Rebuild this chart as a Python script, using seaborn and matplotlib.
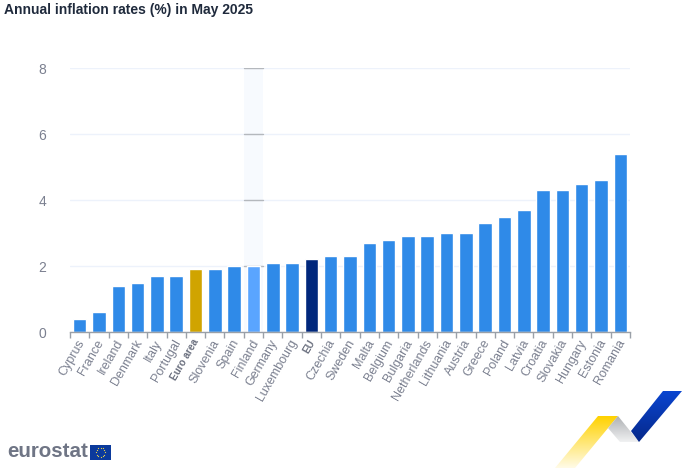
import numpy as np
import pandas as pd
import matplotlib
matplotlib.use("Agg")
import matplotlib.pyplot as plt
from matplotlib.patches import Polygon, Rectangle
from matplotlib.transforms import ScaledTranslation
import seaborn as sns

countries = ["Cyprus", "France", "Ireland", "Denmark", "Italy", "Portugal", "Euro area",
             "Slovenia", "Spain", "Finland", "Germany", "Luxembourg", "EU", "Czechia",
             "Sweden", "Malta", "Belgium", "Bulgaria", "Netherlands", "Lithuania", "Austria",
             "Greece", "Poland", "Latvia", "Croatia", "Slovakia", "Hungary", "Estonia", "Romania"]
rates = [0.4, 0.6, 1.4, 1.5, 1.7, 1.7, 1.9, 1.9, 2.0, 2.0, 2.1, 2.1, 2.2, 2.3, 2.3, 2.7, 2.8,
         2.9, 2.9, 3.0, 3.0, 3.3, 3.5, 3.7, 4.3, 4.3, 4.5, 4.6, 5.4]
y_ticks = [0, 2, 4, 6, 8]

BLUE = "#2f8ae8"
special = {"Euro area": "#d0a400", "EU": "#00277c", "Finland": "#5aa5ff"}
GREY = "#7b8090"

sns.set_theme(style="white")
plt.rcParams["font.family"] = ["Liberation Sans", "DejaVu Sans"]

W, H = 700, 468
fig = plt.figure(figsize=(W / 100, H / 100), dpi=100)
ax = fig.add_axes([70 / W, 1 - 332 / H, 560 / W, 264 / H])

df = pd.DataFrame({"country": countries, "rate": rates})
palette = {c: special.get(c, BLUE) for c in countries}

# hover band behind Finland
fin = countries.index("Finland")
ax.axvspan(fin - 0.5, fin + 0.5, color="#f7fafe", lw=0, zorder=0)
ax.set_axisbelow(True)
ax.yaxis.grid(True, color="#edf2fb", lw=1)
for t in y_ticks[1:]:
    ax.plot([fin - 0.5, fin + 0.5], [t, t], color="#b4b8bd", lw=1, zorder=1)

sns.barplot(data=df, x="country", y="rate", hue="country", palette=palette, legend=False,
            width=0.7, saturation=1, ax=ax, zorder=2)

ax.set_xlim(-0.5, len(countries) - 0.5)
ax.set_ylim(0, 8)
ax.set_xlabel("")
ax.set_ylabel("")
ax.set_yticks(y_ticks)
ax.tick_params(axis="y", length=0, labelsize=10, labelcolor=GREY, pad=17)
for s in ["top", "left", "right"]:
    ax.spines[s].set_visible(False)
ax.spines["bottom"].set_color("#9aa0a8")
ax.spines["bottom"].set_linewidth(1)

# category ticks sit between the bars, labels under the bar centres
ax.set_xticks(np.arange(len(countries) + 1) - 0.5, minor=True)
ax.tick_params(axis="x", which="minor", bottom=True, length=4, width=1, color="#9aa0a8")
ax.set_xticks(range(len(countries)))
ax.set_xticklabels(countries, rotation=60, ha="right", rotation_mode="anchor")
ax.tick_params(axis="x", which="major", length=0, labelsize=9, labelcolor=GREY, pad=4)
shift = ScaledTranslation(-3 / 100, 0, fig.dpi_scale_trans)
for lab in ax.get_xticklabels():
    lab.set_transform(lab.get_transform() + shift)
    if lab.get_text() in ("Euro area", "EU"):
        lab.set_fontweight("bold")
        lab.set_fontsize(7.2)
        lab.set_color("#6a6f7e")

fig.text(4 / W, 1 - 10 / H, "Annual inflation rates (%) in May 2025", fontsize=10,
         fontweight="bold", color="#1f2a3c", va="center", ha="left")

# overlay in pixel coordinates for the branding
deco = fig.add_axes([0, 0, 1, 1], zorder=5)
deco.set_xlim(0, W)
deco.set_ylim(H, 0)
deco.axis("off")
deco.patch.set_alpha(0)


def gradient_poly(points, c_top, c_bottom):
    pts = np.array(points)
    x0, x1, y0, y1 = pts[:, 0].min(), pts[:, 0].max(), pts[:, 1].min(), pts[:, 1].max()
    cols = np.array([matplotlib.colors.to_rgb(c_top), matplotlib.colors.to_rgb(c_bottom)])
    t = np.linspace(0, 1, 64)[:, None]
    img = (cols[0] * (1 - t) + cols[1] * t)[:, None, :]
    im = deco.imshow(img, extent=[x0, x1, y1, y0], aspect="auto", zorder=1)
    im.set_clip_path(Polygon(pts, closed=True, transform=deco.transData))


gradient_poly([(555, 468), (575, 468), (618, 416), (598, 416)], "#ffd200", "#fffbe6")
gradient_poly([(618, 416), (639, 442), (620, 442), (608, 428)], "#aeb0b3", "#f0f1f2")
gradient_poly([(663, 391), (682, 391), (639, 442), (631, 431)], "#0a45d0", "#06288a")
deco.set_xlim(0, W)
deco.set_ylim(H, 0)

deco.text(7, 451.5, "eurostat", fontsize=14.8, fontweight="bold", color="#6f7585",
          va="center", ha="left", family="Liberation Sans")
deco.add_patch(Rectangle((90, 445), 21, 14.5, color="#0b3a9c", lw=0))
ang = np.linspace(0, 2 * np.pi, 12, endpoint=False)
deco.scatter(100.5 + 4.6 * np.cos(ang), 452.2 + 4.6 * np.sin(ang), s=0.8, color="#e8d24a", lw=0)

fig.savefig("out.png", dpi=100, facecolor="white")
